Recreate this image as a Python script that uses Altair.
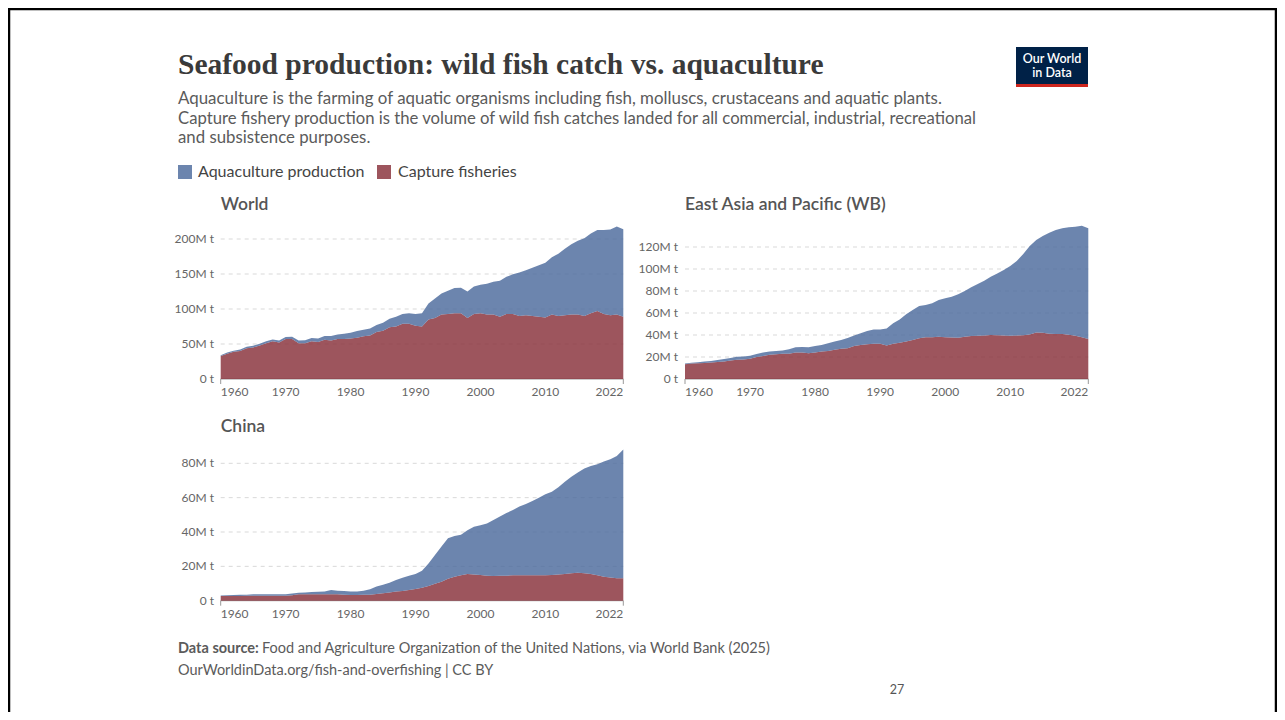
import altair as alt
import pandas as pd

years = list(range(1960, 2023))

# Values in million tonnes (1960..2022)
world_aquaculture = [1, 2, 1.5, 2, 2, 2.5, 2.5, 3, 2.5, 3,
                     3, 3.5, 4, 4.5, 4.5, 5, 5.5, 6.5, 6.5, 7.5,
                     8, 9.5, 9.5, 10, 10, 11.5, 12, 14, 14, 15,
                     17, 19, 23, 28, 30, 33, 36, 36.5, 38, 39,
                     40.5, 44, 47, 51.5, 53, 56.5, 62, 64.5, 69, 73.5,
                     78, 82, 89, 95, 100.5, 105.5, 111, 114, 116, 120,
                     122.5, 126, 125]
world_capture = [33, 36, 39, 40, 44, 45, 48, 51, 54, 52,
                 57, 57, 51, 51, 54, 53, 56, 55, 57, 57,
                 58, 59, 61, 62, 67, 69, 74, 75, 79, 79,
                 76, 75, 85, 87, 92, 93, 94, 94, 87, 93,
                 94, 92, 92, 89, 93, 93, 90, 91, 90, 89,
                 88, 92, 90, 91, 92, 92, 90, 94, 97, 93,
                 91, 92, 89]

eap_aquaculture = [0.7, 0.8, 0.9, 1.3, 1.4, 1.8, 2.2, 2.4, 2.8, 2.7,
                   2.7, 2.8, 3.2, 3, 3, 3, 4, 4.8, 5, 5.3,
                   6, 6, 6.9, 7.5, 8, 9.3, 9.5, 10.5, 12.1, 13,
                   13, 15.5, 18.6, 21.2, 24.8, 27.2, 29.4, 29.3, 30.8, 33.3,
                   35.3, 37, 39.5, 41.5, 44.3, 47.1, 49.9, 53, 56.2, 59.5,
                   63.3, 67.7, 73.8, 80.5, 84.1, 88, 91.8, 94.5, 96, 97.8,
                   99.1, 101.4, 100.6]
eap_capture = [13.5, 14, 14.3, 14.5, 15, 15.5, 16, 16.8, 17.5, 17.8,
               18.5, 20, 21, 22, 22.5, 23, 23, 24, 24, 23.5,
               24, 25, 25.5, 26.5, 27.5, 28, 30, 31, 31.5, 32,
               32, 30.5, 32, 33, 34, 35.5, 37, 38, 38, 38.5,
               38, 37.8, 37.5, 38.5, 39, 39.3, 39.5, 40, 39.8, 39.5,
               39.4, 39.6, 39.8, 40.5, 42.3, 42, 41.2, 41, 41, 40.2,
               39.4, 38, 36.4]

china_aquaculture = [0.4, 0.5, 0.5, 0.6, 0.6, 0.8, 0.8, 0.9, 0.9, 0.9,
                     0.8, 1.0, 1.0, 1.1, 1.2, 1.5, 1.7, 2.4, 2.1, 2.2,
                     2.1, 2.1, 2.4, 3.1, 4.3, 5.0, 5.7, 6.7, 7.8, 8.3,
                     8.7, 10.0, 13.2, 16.8, 20.5, 23.5, 23.7, 23.6, 25.5, 27.7,
                     29.0, 30.4, 32.6, 34.5, 36.4, 38.0, 40.0, 41.5, 43.2, 45.2,
                     47.2, 48.5, 50.7, 53.8, 56.2, 58.3, 61.0, 62.9, 64.6, 67.0,
                     68.8, 71.3, 75.0]
china_capture = [2.7, 2.7, 2.8, 2.8, 2.9, 2.9, 2.9, 2.9, 2.9, 2.9,
                 2.9, 3.2, 3.7, 3.7, 3.8, 3.7, 3.7, 3.8, 3.7, 3.4,
                 3.3, 3.3, 3.4, 3.5, 3.9, 4.3, 4.8, 5.3, 5.6, 6.2,
                 6.8, 7.5, 8.5, 9.8, 11, 12.8, 14, 14.8, 15.5, 15.3,
                 15, 14.6, 14.4, 14.5, 14.6, 14.8, 14.8, 14.8, 14.8, 14.8,
                 14.8, 15, 15.3, 15.5, 16, 16.3, 16, 15.5, 14.8, 14,
                 13.5, 13, 13]

series_names = ["Aquaculture production", "Capture fisheries"]
series_colors = ["#4C6A9C", "#883039"]

world_ticks = [0, 50, 100, 150, 200]
world_tick_labels = ["0 t", "50M t", "100M t", "150M t", "200M t"]
eap_ticks = [0, 20, 40, 60, 80, 100, 120]
eap_tick_labels = ["0 t", "20M t", "40M t", "60M t", "80M t", "100M t", "120M t"]
china_ticks = [0, 20, 40, 60, 80]
china_tick_labels = ["0 t", "20M t", "40M t", "60M t", "80M t"]
year_ticks = [1960, 1970, 1980, 1990, 2000, 2010, 2022]

FONT = "Lato"
AXIS_COLOR = "#666666"


def text(t, x, y, size, color="#5b5b5b", weight="normal", font=FONT, align="left", baseline="middle"):
    return alt.Chart(pd.DataFrame({"t": [t]})).mark_text(
        font=font, fontSize=size, color=color, fontWeight=weight, align=align, baseline=baseline
    ).encode(x=alt.value(x), y=alt.value(y), text="t:N")


def rect(x, x2, y, y2, color, opacity=1.0):
    return alt.Chart(pd.DataFrame({"a": [0]})).mark_rect(color=color, opacity=opacity).encode(
        x=alt.value(x), x2=alt.value(x2), y=alt.value(y), y2=alt.value(y2)
    )


def panel(aqua, capt, x0, x1, y0, ymax, ypx_max, ticks, tick_labels, title, label_x, title_y):
    xs = alt.Scale(domain=[1960, 2022], range=[x0, x1], nice=False, zero=False)
    ys = alt.Scale(domain=[0, ymax], range=[y0, ypx_max], nice=False, zero=False)
    rows = []
    for yr, a, c in zip(years, aqua, capt):
        rows.append({"year": yr, "value": c, "series": series_names[1], "ord": 0})
        rows.append({"year": yr, "value": a, "series": series_names[0], "ord": 1})
    df = pd.DataFrame(rows)
    tdf = pd.DataFrame({"v": ticks, "lab": tick_labels})
    layers = []
    layers.append(
        alt.Chart(tdf[tdf.v > 0]).mark_rule(color="#d9d9d9", strokeDash=[4, 4], strokeWidth=1).encode(
            y=alt.Y("v:Q", scale=ys, axis=None), x=alt.value(x0), x2=alt.value(x1)
        )
    )
    layers.append(
        alt.Chart(tdf[tdf.v == 0]).mark_rule(color="#999999", strokeWidth=1).encode(
            y=alt.Y("v:Q", scale=ys, axis=None), x=alt.value(x0), x2=alt.value(x1)
        )
    )
    layers.append(
        alt.Chart(df).mark_area(opacity=0.82).encode(
            x=alt.X("year:Q", scale=xs, axis=None),
            y=alt.Y("value:Q", stack="zero", scale=ys, axis=None),
            color=alt.Color("series:N", scale=alt.Scale(domain=series_names, range=series_colors), legend=None),
            order=alt.Order("ord:Q"),
        )
    )
    layers.append(
        alt.Chart(tdf).mark_text(align="right", baseline="middle", font=FONT, fontSize=12, color=AXIS_COLOR).encode(
            y=alt.Y("v:Q", scale=ys, axis=None), x=alt.value(label_x), text="lab:N"
        )
    )
    ydf = pd.DataFrame({"year": year_ticks})
    layers.append(
        alt.Chart(ydf[ydf.year.isin([1960, 2022])]).mark_rule(color="#999999").encode(
            x=alt.X("year:Q", scale=xs, axis=None), y=alt.value(y0), y2=alt.value(y0 + 5)
        )
    )
    for sub, al in ((ydf[ydf.year == 1960], "left"), (ydf[(ydf.year > 1960) & (ydf.year < 2022)], "center"),
                    (ydf[ydf.year == 2022], "right")):
        layers.append(
            alt.Chart(sub).mark_text(align=al, baseline="middle", font=FONT, fontSize=12, color=AXIS_COLOR).encode(
                x=alt.X("year:Q", scale=xs, axis=None), y=alt.value(y0 + 13), text="year:N"
            )
        )
    layers.append(text(title, x0, title_y, 17.5, color="#555555", weight=600))
    return layers


layers = []
layers += panel(world_aquaculture, world_capture, 212.7, 615.3, 371, 220, 371 - 220 * 0.7,
                world_ticks, world_tick_labels, "World", 206, 197)
layers += panel(eap_aquaculture, eap_capture, 677, 1080.3, 371, 140, 371 - 140 * 1.1,
                eap_ticks, eap_tick_labels, "East Asia and Pacific (WB)", 670, 197)
layers += panel(china_aquaculture, china_capture, 212.7, 615.3, 592.7, 90, 592.7 - 90 * 1.7175,
                china_ticks, china_tick_labels, "China", 206, 419)

# Header
layers.append(text("Seafood production: wild fish catch vs. aquaculture", 170, 66, 29.5,
                   color="#3a3a3a", weight="bold", font="Liberation Serif", baseline="alphabetic"))
layers.append(text("Aquaculture is the farming of aquatic organisms including fish, molluscs, crustaceans and aquatic plants.",
                   170, 91, 16.9))
layers.append(text("Capture fishery production is the volume of wild fish catches landed for all commercial, industrial, recreational",
                   170, 110.5, 16.7))
layers.append(text("and subsistence purposes.", 170, 130, 16.8))

# Legend
layers.append(rect(170, 184, 157, 171, series_colors[0], 0.82))
layers.append(text(series_names[0], 190, 164, 16, color="#444444"))
layers.append(rect(369, 383, 157, 171, series_colors[1], 0.82))
layers.append(text(series_names[1], 390, 164, 16, color="#444444"))

# Logo
layers.append(rect(1008, 1080, 39, 76, "#002147"))
layers.append(rect(1008, 1080, 76, 79, "#ce261e"))
layers.append(text("Our World", 1044, 51, 12.5, color="#ffffff", weight=600, align="center"))
layers.append(text("in Data", 1044, 65, 12.5, color="#ffffff", weight=600, align="center"))

# Footer
layers.append(text("Data source:", 170, 641, 14.5, color="#5b5b5b", weight="bold"))
layers.append(text("Food and Agriculture Organization of the United Nations, via World Bank (2025)", 254, 641, 14.5))
layers.append(text("OurWorldinData.org/fish-and-overfishing | CC BY", 170, 663, 14.5))
layers.append(text("27", 889, 682, 12.5, color="#555555", align="center"))

# Slide frame
frame = alt.Chart(pd.DataFrame({"a": [0]})).mark_rect(fill=None, stroke="#000000", strokeWidth=2.5, filled=False).encode(
    x=alt.value(1), x2=alt.value(1268), y=alt.value(1), y2=alt.value(720)
)
layers.append(frame)

chart = alt.layer(*layers).resolve_scale(x="independent", y="independent").properties(
    width=1269, height=704, autosize="none", padding=0, background="white"
).configure_view(stroke=None)

chart.save("out.html", embed_options={"renderer": "svg", "actions": False})
